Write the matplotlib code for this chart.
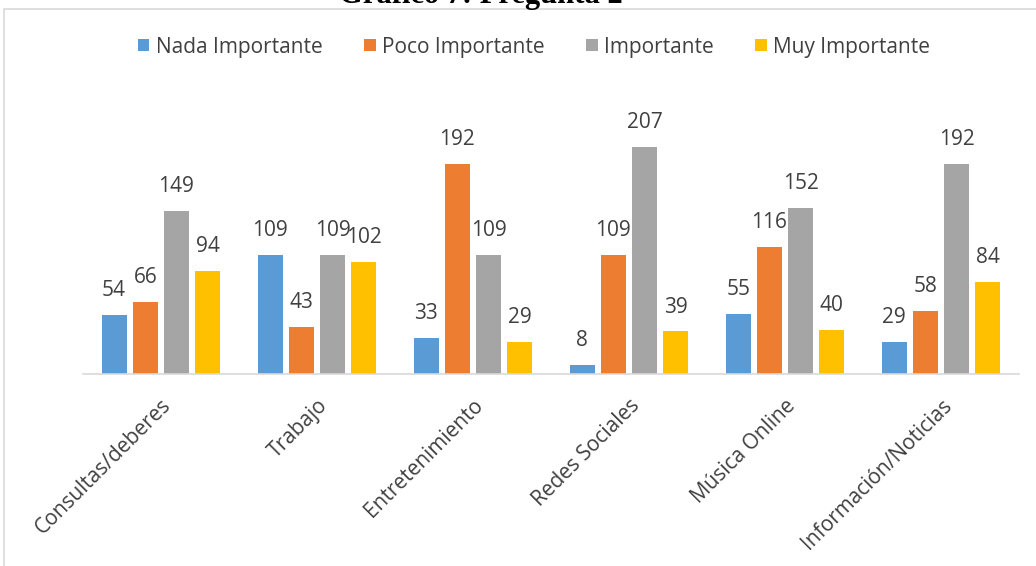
import matplotlib.pyplot as plt
import matplotlib.patches as patches
import numpy as np

categorias = ["Consultas/deberes", "Trabajo", "Entretenimiento",
              "Redes Sociales", "Música Online", "Información/Noticias"]
series = ["Nada Importante", "Poco Importante", "Importante", "Muy Importante"]
nada = [54, 109, 33, 8, 55, 29]
poco = [66, 43, 192, 109, 116, 58]
importante = [149, 109, 109, 207, 152, 192]
muy = [94, 102, 29, 39, 40, 84]
colores = ["#5B9BD5", "#ED7D31", "#A5A5A5", "#FFC000"]

plt.rcParams['font.family'] = ['Open Sans', 'DejaVu Sans']

fig = plt.figure(figsize=(10.36, 5.66), dpi=100)
ax = fig.add_axes([0.080, 0.339, 0.9036, 0.484])

# marco del grafico
fig.patches.append(patches.Rectangle((4 / 1036, -0.1), 1.2, 0.1 + 1 - 9.5 / 566,
                                     transform=fig.transFigure, fill=False,
                                     edgecolor="#D9D9D9", linewidth=1.2))
fig.text(481 / 1036, 1 - 3 / 566, "Gráfico 7: Pregunta 2", ha="center", va="baseline",
         fontsize=22, fontweight="bold", family="Liberation Serif")

x = np.arange(len(categorias))
ancho = 0.16
datos = [nada, poco, importante, muy]
for i, (nombre, valores) in enumerate(zip(series, datos)):
    barras = ax.bar(x + (i - 1.5) * 0.2, valores, ancho, color=colores[i], label=nombre)
    ax.bar_label(barras, padding=10, fontsize=15, color="#404040")

ax.set_xlim(-0.5, len(categorias) - 0.5)
ax.set_ylim(0, 250)
ax.set_yticks([])
for lado in ["top", "right", "left"]:
    ax.spines[lado].set_visible(False)
ax.spines["bottom"].set_color("#D9D9D9")
ax.spines["bottom"].set_linewidth(1.2)
ax.tick_params(axis="x", length=0, pad=15)
ax.set_xticks(x)
ax.set_xticklabels(categorias, rotation=45, ha="right", rotation_mode="anchor",
                   fontsize=15, color="#404040")

fig.legend(loc="center", bbox_to_anchor=(534 / 1036, 1 - 47 / 566), ncol=4,
           frameon=False, fontsize=15, handlelength=0.55, handleheight=0.55,
           handletextpad=0.3, columnspacing=2.0, labelcolor="#404040")

fig.savefig("out.png", dpi=100)
